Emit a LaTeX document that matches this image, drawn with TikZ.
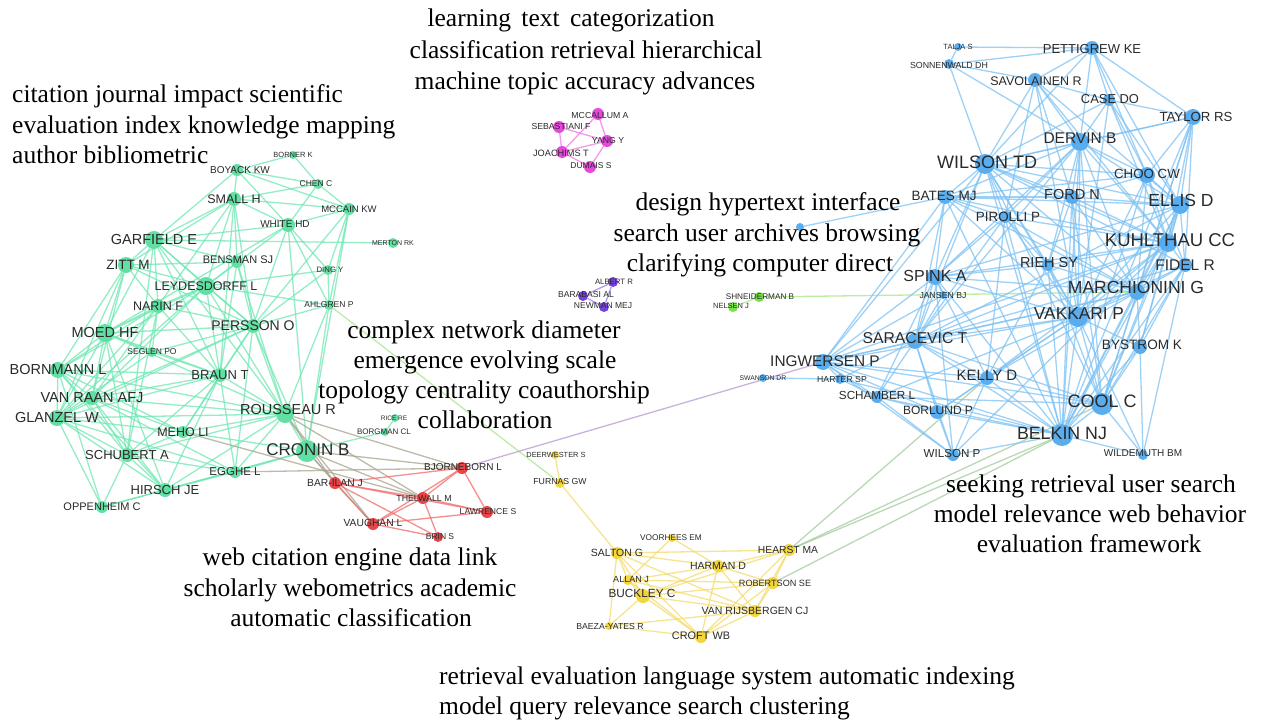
\documentclass[tikz,border=0pt]{standalone}
\usepackage{fontspec}
\setmainfont{Liberation Serif}
\newfontfamily\labfont{Liberation Sans}
\pgfdeclarelayer{back}
\pgfdeclarelayer{bg}
\pgfsetlayers{back,bg,main}
\definecolor{gC}{HTML}{55DE9C}
\definecolor{gE}{HTML}{6FE8B2}
\definecolor{rC}{HTML}{E8363A}
\definecolor{rE}{HTML}{F06A6A}
\definecolor{mC}{HTML}{E23AD8}
\definecolor{mE}{HTML}{EE78E6}
\definecolor{pC}{HTML}{6A32DA}
\definecolor{pE}{HTML}{9A7AEA}
\definecolor{sC}{HTML}{6EDF3A}
\definecolor{sE}{HTML}{A3EA85}
\definecolor{yC}{HTML}{F2D22E}
\definecolor{yE}{HTML}{F4DC6A}
\definecolor{bC}{HTML}{4DA8EE}
\definecolor{bE}{HTML}{7EC2F4}
\definecolor{grayE}{HTML}{A9A38E}
\definecolor{violetE}{HTML}{B69AD2}
\definecolor{lgE}{HTML}{A8E58C}
\definecolor{ygE}{HTML}{A2CC9E}
\definecolor{lblC}{HTML}{2A2A2A}
\tikzset{
  lbl/.style={inner sep=0pt,text=lblC},
  topic/.style={inner sep=0pt,text=black,font=\fontsize{25.5}{30}\selectfont},
  edge/.style={line width=1.3pt,draw opacity=0.75},
}
% name, x, y, radius, colour, font size, label, dx, dy
\newcommand\gn[9]{%
  \node[circle,inner sep=0pt,minimum size=#4*2pt,fill=#5,fill opacity=0.92] (#1) at (#2,#3) {};
  \node[lbl,font=\labfont\fontsize{#6}{#6}\selectfont] (#1-l) at ({#2+(#8)},{#3+(#9)}) {#7};}
\newcommand\edg[2]{\foreach \a/\b in {#2}{\draw[edge,#1] (\a) -- (\b);}}
\begin{document}
\begin{tikzpicture}[x=1pt,y=-1pt]
\begin{pgfonlayer}{back}
\fill[white] (0,0) rectangle (1267,720);
\end{pgfonlayer}
\useasboundingbox (0,0) rectangle (1267,720);
% ---------------- green cluster
\gn{gbor}{293}{155}{4}{gC}{7.5}{BORNER K}{0}{0}
\gn{gboy}{237}{170}{6}{gC}{10}{BOYACK KW}{3}{0}
\gn{gche}{318}{184}{5}{gC}{8.5}{CHEN C}{-2}{0}
\gn{gsma}{234}{199}{7}{gC}{12.5}{SMALL H}{0}{0}
\gn{gmcc}{349}{209}{6}{gC}{9.5}{MCCAIN KW}{0}{0}
\gn{gwhi}{288}{225}{7}{gC}{10}{WHITE HD}{-3}{-1}
\gn{ggar}{154}{240}{9}{gC}{14.5}{GARFIELD E}{0}{0}
\gn{gmer}{393}{243}{5}{gC}{7}{MERTON RK}{0}{0}
\gn{gzit}{126}{265}{8}{gC}{13.5}{ZITT M}{2}{0}
\gn{gben}{237}{262}{6}{gC}{11}{BENSMAN SJ}{1}{-2}
\gn{gdin}{328}{270}{5}{gC}{7.8}{DING Y}{2}{0}
\gn{gley}{206}{286}{9}{gC}{12.5}{LEYDESDORFF L}{0}{0}
\gn{gnar}{158}{306}{7}{gC}{12.5}{NARIN F}{0}{0}
\gn{gahl}{329}{305}{5}{gC}{8.5}{AHLGREN P}{0}{0}
\gn{gper}{253}{326}{7}{gC}{14}{PERSSON O}{0}{0}
\gn{gmoe}{105}{333}{9}{gC}{14.5}{MOED HF}{0}{0}
\gn{gseg}{152}{352}{5}{gC}{8.5}{SEGLEN PO}{0}{0}
\gn{gbrn}{58}{370}{8}{gC}{14.5}{BORNMANN L}{0}{0}
\gn{gbra}{220}{375}{7}{gC}{13}{BRAUN T}{0}{0}
\gn{gvan}{92}{398}{7}{gC}{14.5}{VAN RAAN AFJ}{0}{0}
\gn{grou}{285}{414}{9}{gC}{14.5}{ROUSSEAU R}{3}{-4}
\gn{ggla}{57}{418}{8}{gC}{14.5}{GLANZEL W}{0}{0}
\gn{gmeh}{183}{432}{6}{gC}{12.5}{MEHO LI}{0}{0}
\gn{gric}{395}{418}{4}{gC}{6.5}{RICE RE}{-1}{0}
\gn{gbog}{385}{432}{4}{gC}{8}{BORGMAN CL}{-1}{0}
\gn{gcro}{307}{451}{11}{gC}{17}{CRONIN B}{1}{-1}
\gn{gsch}{127}{455}{7}{gC}{13}{SCHUBERT A}{0}{0}
\gn{gegg}{235}{472}{6}{gC}{11.5}{EGGHE L}{0}{0}
\gn{ghir}{165}{490}{7}{gC}{13}{HIRSCH JE}{0}{0}
\gn{gopp}{102}{507}{6}{gC}{11}{OPPENHEIM C}{0}{0}
% ---------------- red cluster
\gn{rbjo}{462}{468}{6}{rC}{10}{BJORNEBORN L}{1}{-1}
\gn{rbar}{335}{483}{6}{rC}{10.3}{BAR-ILAN J}{0}{0}
\gn{rthe}{423}{498}{6}{rC}{8.8}{THELWALL M}{1}{0}
\gn{rlaw}{487}{512}{6}{rC}{8.6}{LAWRENCE S}{1}{0}
\gn{rvau}{373}{524}{6}{rC}{10.3}{VAUGHAN L}{0}{-1}
\gn{rbri}{438}{537}{5}{rC}{8.5}{BRIN S}{2}{0}
% ---------------- magenta cluster
\gn{mmcc}{598}{114}{6}{mC}{8.7}{MCCALLUM A}{2}{2}
\gn{mseb}{559}{127}{6}{mC}{8.7}{SEBASTIANI F}{2}{0}
\gn{myan}{607}{141}{6}{mC}{8.7}{YANG Y}{1}{0}
\gn{mjoa}{562}{152}{6}{mC}{9.2}{JOACHIMS T}{-1}{1}
\gn{mdum}{590}{167}{6}{mC}{8.5}{DUMAIS S}{1}{-1}
% ---------------- purple cluster
\gn{palb}{613}{282}{5}{pC}{7.8}{ALBERT R}{1}{0}
\gn{pbar}{583}{296}{5}{pC}{8.6}{BARABASI AL}{3}{-1}
\gn{pnew}{604}{307}{5}{pC}{8.5}{NEWMAN MEJ}{-1}{-1}
% ---------------- small green cluster
\gn{sshn}{759}{297}{5}{sC}{8.2}{SHNEIDERMAN B}{1}{0}
\gn{snel}{733}{307}{5}{sC}{7.5}{NELSEN J}{-2}{-1}
% ---------------- blue cluster
\gn{btal}{958}{47}{4}{bC}{7.5}{TALJA S}{0}{0}
\gn{bpet}{1092}{48}{7}{bC}{13}{PETTIGREW KE}{0}{1}
\gn{bson}{949}{64}{5}{bC}{8.8}{SONNENWALD DH}{0}{1}
\gn{bsav}{1035}{80}{7}{bC}{12.5}{SAVOLAINEN R}{1}{1}
\gn{bcas}{1109}{100}{6}{bC}{12.9}{CASE DO}{1}{-1}
\gn{btay}{1193}{117}{8}{bC}{13.2}{TAYLOR RS}{3}{0}
\gn{bder}{1080}{142}{9}{bC}{15.5}{DERVIN B}{0}{-4}
\gn{bwtd}{985}{164}{10}{bC}{18}{WILSON TD}{2}{-2}
\gn{bcho}{1147}{175}{8}{bC}{13.3}{CHOO CW}{0}{-1}
\gn{bbat}{945}{197}{7}{bC}{13.5}{BATES MJ}{-1}{-1}
\gn{bfor}{1072}{197}{7}{bC}{14.5}{FORD N}{0}{-2}
\gn{bell}{1180}{205}{9}{bC}{17.5}{ELLIS D}{1}{-5}
\gn{bpir}{1005}{217}{6}{bC}{13.4}{PIROLLI P}{3}{0}
\gn{bkuh}{1168}{243}{9}{bC}{18.5}{KUHLTHAU CC}{2}{-3}
\gn{brie}{1048}{265}{6}{bC}{14.5}{RIEH SY}{1}{-2}
\gn{bfid}{1185}{265}{7}{bC}{15.5}{FIDEL R}{0}{0}
\gn{bspi}{935}{277}{8}{bC}{16}{SPINK A}{0}{-1}
\gn{bmar}{1137}{292}{8}{bC}{17.5}{MARCHIONINI G}{-1}{-5}
\gn{bjan}{943}{295}{4}{bC}{8.7}{JANSEN BJ}{0}{1}
\gn{bvak}{1078}{317}{10}{bC}{17.3}{VAKKARI P}{1}{-3}
\gn{bsar}{915}{341}{8}{bC}{15.7}{SARACEVIC T}{0}{-3}
\gn{bbys}{1140}{347}{7}{bC}{13.6}{BYSTROM K}{2}{-2}
\gn{bing}{823}{362}{8}{bC}{15.4}{INGWERSEN P}{2}{-1}
\gn{bswa}{763}{378}{4}{bC}{6.8}{SWANSON DR}{0}{0}
\gn{bhar}{840}{379}{5}{bC}{8.7}{HARTER SP}{2}{1}
\gn{bkel}{987}{378}{7}{bC}{15}{KELLY D}{0}{-3}
\gn{bsca}{877}{397}{6}{bC}{11.7}{SCHAMBER L}{0}{-2}
\gn{bcoo}{1102}{404}{11}{bC}{18}{COOL C}{0}{-3}
\gn{bbor}{937}{412}{7}{bC}{12}{BORLUND P}{1}{-2}
\gn{bbel}{1062}{435}{11}{bC}{17.8}{BELKIN NJ}{0}{-2}
\gn{bwip}{953}{455}{6}{bC}{11.6}{WILSON P}{-1}{-1}
\gn{bwil}{1143}{455}{5}{bC}{10}{WILDEMUTH BM}{0}{-2}
\node[circle,inner sep=0pt,minimum size=8pt,fill=bC,fill opacity=0.92] (bhol) at (800,227) {};
% ---------------- yellow cluster
\gn{ydee}{555}{455}{4}{yC}{7.4}{DEERWESTER S}{1}{0}
\gn{yfur}{560}{483}{5}{yC}{8.7}{FURNAS GW}{0}{-1}
\gn{yvoo}{672}{538}{4}{yC}{8.3}{VOORHEES EM}{-1}{0}
\gn{ysal}{617}{553}{6}{yC}{10.5}{SALTON G}{0}{0}
\gn{yhea}{789}{550}{6}{yC}{10.3}{HEARST MA}{-1}{0}
\gn{yhar}{718}{566}{6}{yC}{10.5}{HARMAN D}{0}{0}
\gn{yall}{628}{580}{5}{yC}{9}{ALLAN J}{3}{-1}
\gn{yrob}{773}{583}{6}{yC}{9.1}{ROBERTSON SE}{2}{0}
\gn{ybuc}{643}{596}{7}{yC}{11.8}{BUCKLEY C}{-1}{-3}
\gn{yvan}{755}{611}{6}{yC}{10.5}{VAN RIJSBERGEN CJ}{0}{0}
\gn{ybae}{609}{626}{4}{yC}{8.7}{BAEZA-YATES R}{1}{0}
\gn{ycro}{701}{637}{6}{yC}{10.9}{CROFT WB}{0}{-1}
% ---------------- edges
\begin{pgfonlayer}{bg}
\edg{gE}{gbor/gboy, gbor/gche, gboy/gche, gboy/gsma, gboy/gmcc, gboy/gwhi, gboy/ggar, gche/gsma, gche/gmcc, gche/gwhi, gsma/gmcc, gsma/gwhi, gsma/ggar, gsma/gzit, gsma/gley, gsma/gper, gsma/gbra, gsma/gnar, gsma/gben, gmcc/gwhi, gmcc/gdin, gmcc/gahl, gmcc/gper, gmcc/gcro, gwhi/ggar, gwhi/gley, gwhi/gdin, gwhi/gahl, gwhi/gper, gwhi/gmoe, ggar/gmer, ggar/gzit, ggar/gley, ggar/gnar, ggar/gmoe, ggar/gper, ggar/gbra, ggar/grou, ggar/gsch, ggar/gben, gzit/gley, gzit/gmoe, gzit/gnar, gzit/gbrn, gzit/gvan, gzit/ggla, gzit/gben, gzit/gper, gben/gley, gben/gbra, gben/grou, gley/gnar, gley/gper, gley/gmoe, gley/gbrn, gley/gbra, gley/grou, gley/ggla, gley/gvan, gley/gdin, gley/gahl, gnar/gmoe, gnar/gper, gnar/ggla, gnar/gvan, gnar/gbrn, gnar/gbra, gnar/gsch, gnar/gseg, gahl/gper, gahl/grou, gahl/gcro, gdin/gper, gdin/gahl, gper/gmoe, gper/gbra, gper/grou, gper/gvan, gper/ggla, gper/gmeh, gper/gcro, gper/gegg, gmoe/gbrn, gmoe/gvan, gmoe/ggla, gmoe/gseg, gmoe/gsch, gmoe/gbra, gmoe/grou, gmoe/ghir, gseg/gbra, gseg/ggla, gbrn/gvan, gbrn/ggla, gbrn/gsch, gbrn/ghir, gbrn/gopp, gbrn/gbra, gbrn/grou, gbrn/gmeh, gbra/gvan, gbra/ggla, gbra/gsch, gbra/grou, gbra/gegg, gbra/ghir, gbra/gmeh, gvan/ggla, gvan/gsch, gvan/grou, gvan/ghir, gvan/gmeh, gvan/gegg, grou/ggla, grou/gmeh, grou/gcro, grou/gegg, grou/ghir, grou/gsch, ggla/gsch, ggla/ghir, ggla/gopp, ggla/gmeh, ggla/gegg, gmeh/gcro, gmeh/gsch, gsch/ghir, gsch/gegg, gsch/gopp, ghir/gegg, ghir/gopp, ghir/gcro, gegg/gcro, gopp/gcro, gcro/gbog, gbog/gric, gwhi/gcro, gben/gper, gseg/gper}
\edg{grayE}{grou/rbjo, gcro/rbjo, gegg/rbjo, gcro/rthe, grou/rthe, gcro/rbar, gcro/rvau, grou/rvau, gmeh/rthe, grou/rbar}
\edg{rE}{rbjo/rbar, rbjo/rthe, rbjo/rlaw, rbjo/rvau, rbar/rthe, rbar/rvau, rbar/rbri, rbar/rlaw, rthe/rlaw, rthe/rvau, rthe/rbri, rvau/rlaw, rvau/rbri}
\edg{mE}{mmcc/myan, mmcc/mjoa, mseb/mjoa, mseb/myan, mjoa/myan, mjoa/mdum, myan/mdum}
\edg{pE}{palb/pbar, pbar/pnew, palb/pnew}
\edg{sE}{sshn/snel, sshn/bmar}
\edg{yE}{ydee/yfur, yfur/ysal, ysal/yhar, ysal/yall, ysal/ybuc, ysal/ybae, ysal/yvan, ysal/ycro, ysal/yhea, yvoo/yhar, yvoo/yall, yhar/yhea, yhar/yall, yhar/ybuc, yhar/yrob, yhar/yvan, yhar/ycro, yhea/yrob, yhea/yvan, yhea/ycro, yhea/ybuc, yall/ybuc, yall/ycro, yall/yrob, yall/yvan, ybuc/yrob, ybuc/yvan, ybuc/ycro, ybuc/ybae, yrob/yvan, yrob/ycro, yvan/ycro, yvan/ybae, ybae/ycro}
\edg{lgE}{gahl/yfur}
\edg{violetE}{rbjo/bing}
\edg{ygE}{yhea/bbel, yhea/bcoo, yrob/bbel, yhea/bkel}
\edg{bE}{btal/bpet, btal/bson, bson/bpet, bson/bsav, bson/bwtd, bson/bder, bpet/bsav, bpet/bcas, bpet/btay, bpet/bder, bpet/bcho, bpet/bell, bpet/bwtd, bsav/bcas, bsav/bder, bsav/bwtd, bsav/bfor, bsav/bkuh, bsav/bell, bsav/bvak, bsav/bpir, bcas/btay, bcas/bder, bcas/bwtd, bcas/bcho, bcas/bell, bcas/bkuh, bcas/bvak, btay/bder, btay/bcho, btay/bell, btay/bkuh, btay/bfid, btay/bwtd, btay/bbel, btay/bcoo, btay/bmar, bder/bwtd, bder/bcho, bder/bfor, bder/bell, bder/bkuh, bder/bbat, bder/bpir, bder/brie, bder/bvak, bder/bmar, bder/bspi, bder/bsar, bder/bbel, bwtd/bbat, bwtd/bfor, bwtd/bell, bwtd/bkuh, bwtd/bpir, bwtd/brie, bwtd/bspi, bwtd/bvak, bwtd/bmar, bwtd/bsar, bwtd/bing, bwtd/bbel, bwtd/bfid, bwtd/bcho, bcho/bell, bcho/bkuh, bcho/bfor, bcho/bfid, bcho/bbat, bcho/bmar, bcho/bvak, bbat/bfor, bbat/bell, bbat/bpir, bbat/bkuh, bbat/bspi, bbat/bmar, bbat/bvak, bbat/bsar, bbat/bing, bbat/bbel, bbat/bhol, bfor/bell, bfor/bkuh, bfor/brie, bfor/bvak, bfor/bmar, bfor/bbel, bell/bkuh, bell/bfid, bell/bmar, bell/bvak, bell/bbel, bell/bcoo, bell/bbys, bell/bspi, bpir/bkuh, bpir/brie, bpir/bmar, bpir/bspi, bpir/bvak, bpir/bkel, bkuh/bfid, bkuh/bmar, bkuh/bvak, bkuh/brie, bkuh/bbel, bkuh/bcoo, bkuh/bbys, bkuh/bsar, bkuh/bspi, bkuh/bing, bkuh/bkel, brie/bvak, brie/bmar, brie/bspi, brie/bkel, brie/bbel, bfid/bmar, bfid/bvak, bfid/bbel, bfid/bcoo, bfid/bbys, bfid/bsar, bfid/bwil, bspi/bjan, bspi/bsar, bspi/bvak, bspi/bmar, bspi/bing, bspi/bkel, bspi/bbel, bspi/bsca, bspi/bwip, bmar/bvak, bmar/bbel, bmar/bcoo, bmar/bkel, bmar/bsar, bmar/bbys, bjan/bsar, bjan/bing, bvak/bsar, bvak/bbys, bvak/bbel, bvak/bcoo, bvak/bkel, bvak/bing, bvak/bbor, bvak/bsca, bvak/bwil, bsar/bing, bsar/bhar, bsar/bkel, bsar/bsca, bsar/bbor, bsar/bbel, bsar/bcoo, bsar/bwip, bbys/bcoo, bbys/bbel, bbys/bwil, bing/bhar, bing/bsca, bing/bbor, bing/bkel, bing/bbel, bing/bcoo, bing/bwip, bhar/bsca, bhar/bbel, bkel/bcoo, bkel/bbel, bkel/bbor, bkel/bwip, bsca/bbor, bsca/bbel, bsca/bcoo, bsca/bwip, bcoo/bbel, bcoo/bwil, bbor/bbel, bbor/bwip, bbel/bwip, bbel/bwil, bswa/bhar, bder/bcoo, bwtd/bcoo, bpir/bbel, bfor/bcoo, bell/bsar, bcho/bbel, bkuh/bwip, bmar/bing, bpir/bsar, brie/bcoo}
\end{pgfonlayer}
% ---------------- topic labels
\node[topic,anchor=base] (ta1) at (571,27) {learning\hspace{4pt} text\hspace{4pt} categorization};
\node[topic,anchor=base] (ta2) at (586,58) {classification retrieval hierarchical};
\node[topic,anchor=base] (ta3) at (585,89) {machine topic accuracy advances};
\node[topic,anchor=base west] (tb1) at (12,102) {citation journal impact scientific};
\node[topic,anchor=base west] (tb2) at (12,133) {evaluation index knowledge mapping};
\node[topic,anchor=base west] (tb3) at (12,163) {author bibliometric};
\node[topic,anchor=base] (tc1) at (768,210) {design hypertext interface};
\node[topic,anchor=base] (tc2) at (767,241) {search user archives browsing};
\node[topic,anchor=base] (tc3) at (760,271) {clarifying computer direct};
\node[topic,anchor=base] (td1) at (484,338) {complex network diameter};
\node[topic,anchor=base] (td2) at (485,368) {emergence evolving scale};
\node[topic,anchor=base] (td3) at (484,398) {topology centrality coauthorship};
\node[topic,anchor=base] (td4) at (485,428) {collaboration};
\node[topic,anchor=base] (te1) at (1091,492) {seeking retrieval user search};
\node[topic,anchor=base] (te2) at (1090,522) {model relevance web behavior};
\node[topic,anchor=base] (te3) at (1089,552) {evaluation framework};
\node[topic,anchor=base] (tf1) at (350,565) {web citation engine data link};
\node[topic,anchor=base] (tf2) at (350,596) {scholarly webometrics academic};
\node[topic,anchor=base] (tf3) at (351,626) {automatic classification};
\node[topic,anchor=base west] (tg1) at (439,684) {retrieval evaluation language system automatic indexing};
\node[topic,anchor=base west] (tg2) at (439,714) {model query relevance search clustering};
\end{tikzpicture}
\end{document}
